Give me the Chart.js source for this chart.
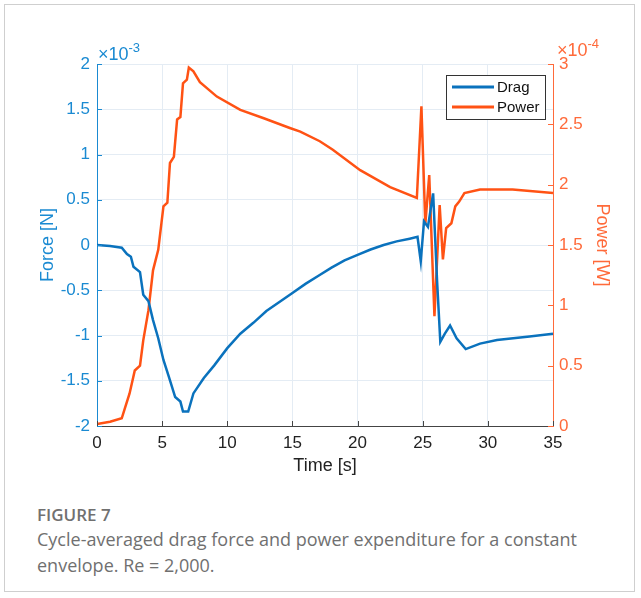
<!DOCTYPE html>
<html>
<head>
<meta charset="utf-8">
<script src="https://cdn.jsdelivr.net/npm/chart.js@4.4.1/dist/chart.umd.min.js"></script>
<style>
  body { margin: 0; background: #fff; }
  #frame {
    position: absolute; left: 4px; top: 4px; width: 631px; height: 588px;
    border: 1px solid #cfcfcf; box-sizing: border-box;
  }
  #wrap { position: absolute; left: 0; top: 0; width: 641px; height: 480px; }
  #caption {
    position: absolute; left: 37px; top: 503px; width: 590px;
    font-family: "Open Sans", sans-serif; color: #707070;
  }
  #caption .fig { font-size: 17px; font-weight: 600; margin-bottom: 0px; }
  #caption .txt { font-size: 18px; line-height: 26px; }
</style>
</head>
<body>
<div id="frame"></div>
<div id="wrap"><canvas id="chart" width="641" height="480"></canvas></div>
<div id="caption">
  <div class="fig">FIGURE 7</div>
  <div class="txt">Cycle-averaged drag force and power expenditure for a constant envelope. Re = 2,000.</div>
</div>

<script>
// =====================
// DATA
// =====================
// drag force, in units of 1e-3 N
const timeDrag = [0, 1, 1.9, 2.3, 2.6, 2.8, 3.3, 3.55, 3.95, 4.3, 4.7, 5.1, 5.5, 6.0, 6.4, 6.6, 7.0, 7.4, 8.2, 9.0,
                  10, 11, 12, 13, 14, 15, 16, 17, 18, 19, 20, 21, 22, 23, 24, 24.6,
                  24.85, 25.1, 25.4, 25.8, 26.1, 26.35, 26.7, 27.1, 27.6, 28.3, 29.4, 30.7, 33.2, 35];
const dragForce = [0, -0.01, -0.03, -0.1, -0.13, -0.24, -0.3, -0.55, -0.62, -0.83, -1.03, -1.27, -1.45, -1.68, -1.73, -1.84, -1.84, -1.64, -1.47, -1.33,
                   -1.14, -0.98, -0.86, -0.73, -0.63, -0.53, -0.43, -0.34, -0.25, -0.17, -0.11, -0.05, 0, 0.04, 0.07, 0.09,
                   -0.18, 0.26, 0.2, 0.57, -0.39, -1.07, -0.98, -0.89, -1.03, -1.15, -1.09, -1.05, -1.01, -0.98];

// power, in units of 1e-4 W
const timePower = [0, 1, 1.9, 2.15, 2.5, 2.9, 3.3, 3.55, 3.95, 4.3, 4.7, 5.1, 5.4, 5.6, 5.9, 6.15, 6.4, 6.6, 6.9, 7.05,
                   7.4, 7.9, 9.2, 11, 12.8, 14.8, 15.6, 17.1, 18.1, 20.2, 22.5, 24.55,
                   24.9, 25.2, 25.5, 25.9, 26.3, 26.55, 26.8, 27.2, 27.5, 27.8, 28.2, 29.4, 31.9, 35];
const powerOut = [0.017, 0.036, 0.064, 0.15, 0.27, 0.46, 0.5, 0.71, 0.96, 1.29, 1.46, 1.82, 1.85, 2.18, 2.23, 2.54, 2.56, 2.84, 2.87, 2.97,
                  2.94, 2.85, 2.73, 2.62, 2.55, 2.47, 2.44, 2.36, 2.29, 2.12, 1.98, 1.89,
                  2.65, 1.67, 2.08, 0.91, 1.83, 1.38, 1.64, 1.68, 1.82, 1.86, 1.93, 1.96, 1.96, 1.93];

const seriesNames = ["Drag", "Power"];
const axisTitles = ["Time [s]", "Force [N]", "Power [W]"];
const exponents = ["-3", "-4"];

// =====================
// STYLE
// =====================
const BLUE = "#0a72bd";
const BLUE_AXIS = "#1a8ad2";
const ORANGE = "#ff5214";
const ORANGE_AXIS = "#ff6a3a";
const GRID = "#e4ecf4";
const FONT = "Liberation Sans, Arial, Helvetica, sans-serif";

// plain number labels: 2, 1.5, 1, 0.5, 0, -0.5 ...
const plainTick = v => String(Math.round(v * 100) / 100);

// =====================
// EXTRA DRAWING: inward ticks, exponents, legend
// =====================
function drawExponent(ctx, x, baseline, exp, color) {
    ctx.fillStyle = color;
    ctx.font = "18px " + FONT;
    ctx.fillText("\u00d710", x, baseline);
    const w = ctx.measureText("\u00d710").width;
    ctx.font = "13px " + FONT;
    ctx.fillText(exp, x + w, baseline - 8);
}

const matlabBits = {
    id: "matlabBits",
    afterDraw(chart) {
        const ctx = chart.ctx;
        const area = chart.chartArea;
        const sx = chart.scales.x, sy = chart.scales.y, sy1 = chart.scales.y1;

        // inward tick marks
        ctx.save();
        ctx.lineWidth = 1;
        ctx.strokeStyle = "#444";
        sx.ticks.forEach(t => {
            const px = Math.round(sx.getPixelForValue(t.value)) + 0.5;
            ctx.beginPath();
            ctx.moveTo(px, area.bottom);
            ctx.lineTo(px, area.bottom - 5);
            ctx.stroke();
        });
        ctx.strokeStyle = BLUE_AXIS;
        sy.ticks.forEach(t => {
            const py = Math.round(sy.getPixelForValue(t.value)) + 0.5;
            ctx.beginPath();
            ctx.moveTo(area.left, py);
            ctx.lineTo(area.left + 5, py);
            ctx.stroke();
        });
        ctx.strokeStyle = ORANGE_AXIS;
        sy1.ticks.forEach(t => {
            const py = Math.round(sy1.getPixelForValue(t.value)) + 0.5;
            ctx.beginPath();
            ctx.moveTo(area.right, py);
            ctx.lineTo(area.right - 5, py);
            ctx.stroke();
        });

        // exponent labels
        ctx.textBaseline = "alphabetic";
        ctx.textAlign = "left";
        drawExponent(ctx, area.left + 1, area.top - 4, exponents[0], BLUE_AXIS);
        drawExponent(ctx, area.right + 4, area.top - 8, exponents[1], ORANGE_AXIS);

        // legend box
        const lx = 446, ly = 75, lw = 99, lh = 44;
        ctx.fillStyle = "#fff";
        ctx.fillRect(lx, ly, lw, lh);
        ctx.strokeStyle = "#333";
        ctx.lineWidth = 1;
        ctx.strokeRect(lx + 0.5, ly + 0.5, lw, lh);
        ctx.font = "15px " + FONT;
        ctx.textBaseline = "middle";
        chart.data.datasets.forEach((ds, i) => {
            const yy = ly + 12 + i * 20;
            ctx.strokeStyle = ds.borderColor;
            ctx.lineWidth = 3;
            ctx.beginPath();
            ctx.moveTo(lx + 6, yy);
            ctx.lineTo(lx + 48, yy);
            ctx.stroke();
            ctx.fillStyle = "#111";
            ctx.fillText(ds.label, lx + 51, yy + 1);
        });
        ctx.restore();
    }
};

// =====================
// CHART
// =====================
function drawChart() {
    const ctx = document.getElementById("chart");
    new Chart(ctx, {
        type: "line",
        data: {
            datasets: [{
                label: seriesNames[0],
                data: timeDrag.map((t, i) => ({ x: t, y: dragForce[i] })),
                borderColor: BLUE,
                borderWidth: 2.5,
                pointRadius: 0,
                tension: 0,
                yAxisID: "y"
            }, {
                label: seriesNames[1],
                data: timePower.map((t, i) => ({ x: t, y: powerOut[i] })),
                borderColor: ORANGE,
                borderWidth: 2.5,
                pointRadius: 0,
                tension: 0,
                yAxisID: "y1"
            }]
        },
        options: {
            responsive: false,
            animation: false,
            layout: { padding: { top: 64, left: 0, right: 0, bottom: 0 } },
            plugins: { legend: { display: false }, tooltip: { enabled: false } },
            scales: {
                x: {
                    type: "linear",
                    min: 0, max: 35,
                    ticks: { stepSize: 5, color: "#222", padding: 7, font: { family: FONT, size: 17 } },
                    grid: { color: GRID, drawTicks: false },
                    border: { color: "#444" },
                    title: { display: true, text: axisTitles[0], color: "#222", padding: { top: 0, bottom: 3 },
                             font: { family: FONT, size: 18 } },
                    afterFit: s => { s.height = 54; }
                },
                y: {
                    position: "left",
                    min: -2, max: 2,
                    ticks: { stepSize: 0.5, color: BLUE_AXIS, padding: 7, callback: plainTick,
                             font: { family: FONT, size: 17 } },
                    grid: { color: GRID, drawTicks: false },
                    border: { color: BLUE_AXIS },
                    title: { display: true, text: axisTitles[1], color: BLUE_AXIS, padding: { top: 37, bottom: 0 },
                             font: { family: FONT, size: 18 } },
                    afterFit: s => { s.width = 97; }
                },
                y1: {
                    position: "right",
                    min: 0, max: 3,
                    ticks: { stepSize: 0.5, color: ORANGE_AXIS, padding: 6, callback: plainTick,
                             font: { family: FONT, size: 17 } },
                    grid: { display: false, drawTicks: false },
                    border: { color: ORANGE_AXIS },
                    title: { display: true, text: axisTitles[2], color: ORANGE_AXIS, padding: { top: 28, bottom: 0 },
                             font: { family: FONT, size: 18 } },
                    afterFit: s => { s.width = 88; }
                }
            }
        },
        plugins: [matlabBits]
    });
}

document.fonts.load("17px 'Liberation Sans'").then(drawChart, drawChart);
</script>
</body>
</html>
